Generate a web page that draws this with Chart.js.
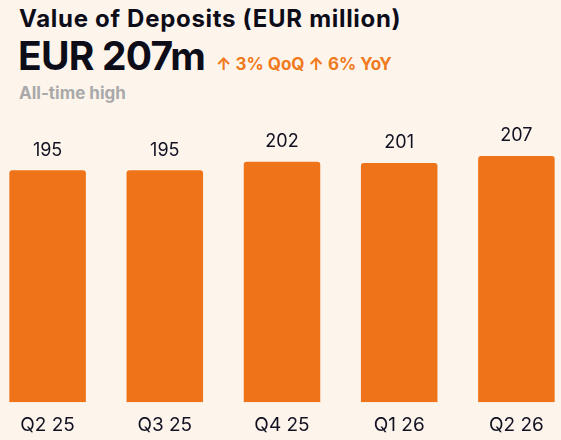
<!DOCTYPE html>
<html lang="en">
<head>
    <meta charset="UTF-8">
    <title>Value of Deposits</title>
    <style>
        body {
            margin: 0;
            background-color: #fdf5ec;
            font-family: Inter, "Noto Sans", sans-serif;
            width: 561px;
            height: 440px;
            overflow: hidden;
            position: relative;
        }
        .title {
            position: absolute;
            left: 19px;
            top: 4px;
            font-size: 24px;
            font-weight: 700;
            color: #0d0d1a;
            letter-spacing: 0.7px;
        }
        .big {
            position: absolute;
            left: 18px;
            top: 32px;
            font-size: 39px;
            font-weight: 700;
            color: #0d0d1a;
            letter-spacing: -0.8px;
        }
        .change {
            position: absolute;
            left: 216px;
            top: 54px;
            font-size: 17px;
            font-weight: 700;
            color: #f07a20;
        }
        .sub {
            position: absolute;
            left: 19px;
            top: 83px;
            font-size: 17px;
            font-weight: 700;
            color: #a9a9a9;
        }
        .chart-box {
            position: absolute;
            left: -11px;
            top: 100px;
            width: 586px;
            height: 352px;
        }
    </style>
    <script src="https://cdn.jsdelivr.net/npm/chart.js"></script>
</head>
<body>
    <div class="title">Value of Deposits (EUR million)</div>
    <div class="big">EUR 207m</div>
    <div class="change">↑ 3% QoQ ↑ 6% YoY</div>
    <div class="sub">All-time high</div>

    <div class="chart-box"><canvas id="depositsChart"></canvas></div>

    <script>
        // datos del gráfico
        var quarters = ['Q2 25', 'Q3 25', 'Q4 25', 'Q1 26', 'Q2 26'];
        var deposits = [195, 195, 202, 201, 207];

        // etiquetas de valor encima de cada barra
        var valueLabels = {
            id: 'valueLabels',
            afterDatasetsDraw: function (chart) {
                var ctx = chart.ctx;
                var meta = chart.getDatasetMeta(0);
                ctx.save();
                ctx.font = '18px Inter, "Noto Sans", sans-serif';
                ctx.fillStyle = '#111122';
                ctx.textAlign = 'center';
                ctx.textBaseline = 'bottom';
                meta.data.forEach(function (bar, i) {
                    ctx.fillText(deposits[i], bar.x, bar.y - 11);
                });
                ctx.restore();
            }
        };

        var ctx = document.getElementById('depositsChart').getContext('2d');
        var depositsChart = new Chart(ctx, {
            type: 'bar',
            data: {
                labels: quarters,
                datasets: [{
                    data: deposits,
                    backgroundColor: '#ef7319',
                    borderRadius: 3,
                    borderSkipped: 'bottom',
                    categoryPercentage: 1,
                    barPercentage: 0.653
                }]
            },
            options: {
                responsive: true,
                maintainAspectRatio: false,
                animation: false,
                layout: { padding: { top: 0, bottom: 3, left: 0, right: 0 } },
                plugins: {
                    legend: { display: false },
                    tooltip: { enabled: false }
                },
                scales: {
                    y: {
                        display: false,
                        min: 0,
                        max: 254
                    },
                    x: {
                        grid: { display: false, drawTicks: false },
                        border: { display: false },
                        ticks: {
                            color: '#111122',
                            padding: 12,
                            font: { family: 'Inter, "Noto Sans", sans-serif', size: 19 }
                        }
                    }
                }
            },
            plugins: [valueLabels]
        });
    </script>
</body>
</html>
